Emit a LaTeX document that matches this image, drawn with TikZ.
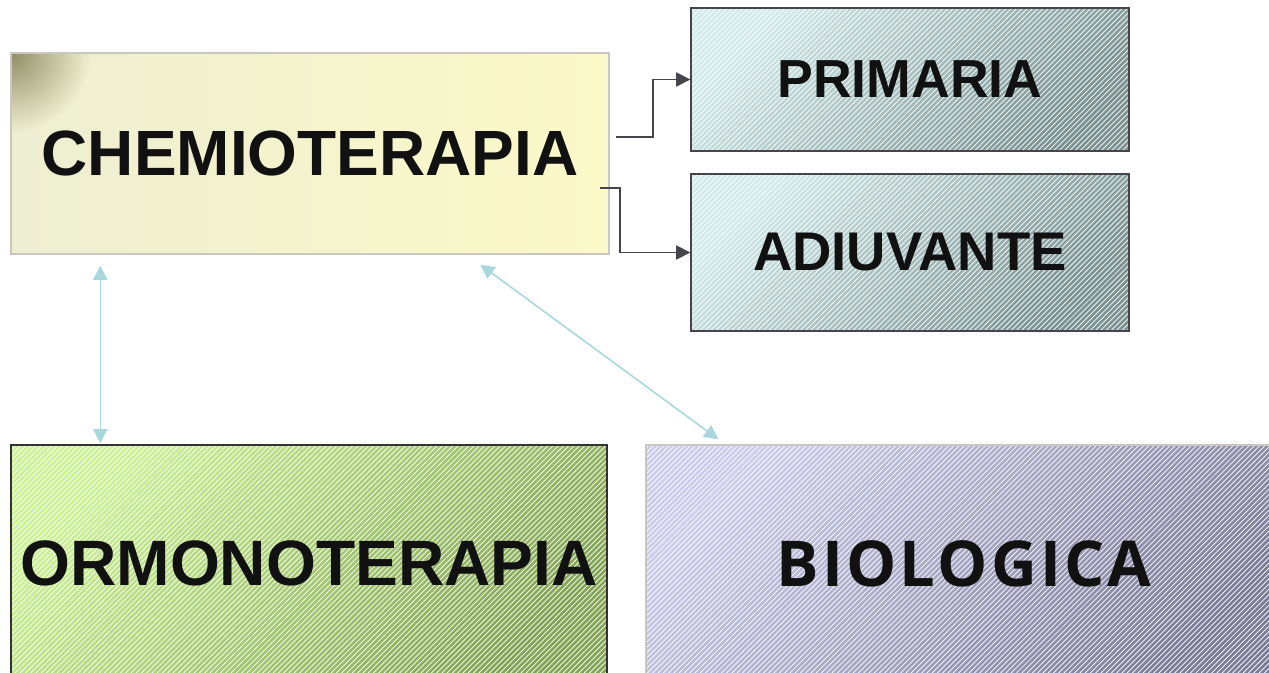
\documentclass[tikz,border=0pt]{standalone}
\usepackage{fontspec}
\setmainfont{Liberation Sans}
\newfontfamily\biofont[LetterSpace=5]{Open Sans}
\usetikzlibrary{arrows.meta,patterns,fadings}

\definecolor{textblack}{HTML}{111111}
\definecolor{linkgray}{HTML}{48444C}
\definecolor{arrowblue}{HTML}{A8D8DC}
\definecolor{chemoleft}{HTML}{EEEED2}
\definecolor{chemoright}{HTML}{FBF9C8}
\definecolor{chemoline}{HTML}{C8C8C0}
\definecolor{tealtop}{HTML}{D2EAEA}
\definecolor{tealbottom}{HTML}{7C9292}
\definecolor{greentop}{HTML}{CCF494}
\definecolor{greenbottom}{HTML}{84A456}
\definecolor{lilactop}{HTML}{CCCCEE}
\definecolor{lilacbottom}{HTML}{7C7C98}

\tikzfading[name=spotfade, inner color=transparent!35, outer color=transparent!100]

\tikzset{
  box/.style={rectangle, line width=0.8pt, inner sep=0pt, font=\bfseries, text=textblack},
  hatch/.style={postaction={pattern=north east lines, pattern color=white, fill opacity=0.2},
                postaction={draw=#1, line width=0.8pt}},
  link/.style={draw=linkgray, line width=0.9pt, -{Triangle[length=8pt,width=8pt]}},
  biarrow/.style={draw=arrowblue, line width=0.9pt, {Triangle[length=8pt,width=8pt]}-{Triangle[length=8pt,width=8pt]}},
}

\begin{document}
\begin{tikzpicture}
  \useasboundingbox (0,0) rectangle (25.38,13.44);
  \clip (0,0) rectangle (25.38,13.44);

  % main box
  \node[box, draw=chemoline, left color=chemoleft, right color=chemoright,
        minimum width=11.96cm, minimum height=4.02cm]
        (chemo) at (6.2,10.37) {};
  \begin{scope}
    \clip (chemo.south west) rectangle (chemo.north east);
    \fill[olive!55!black, path fading=spotfade] (chemo.north west) circle (1.6);
  \end{scope}
  \node[box, draw=chemoline, minimum width=11.96cm, minimum height=4.02cm,
        font=\bfseries\fontsize{36.4}{40}\selectfont] at (chemo.center) {CHEMIOTERAPIA};

  % right boxes
  \node[box, top color=tealtop, bottom color=tealbottom, shading angle=45, hatch=linkgray,
        minimum width=8.76cm, minimum height=2.86cm, font=\bfseries\fontsize{30.5}{34}\selectfont]
        (primaria) at (18.2,11.85) {PRIMARIA};
  \node[box, top color=tealtop, bottom color=tealbottom, shading angle=45, hatch=linkgray,
        minimum width=8.76cm, minimum height=3.14cm, font=\bfseries\fontsize{31}{34}\selectfont]
        (adiuvante) at (18.2,8.39) {ADIUVANTE};

  % bottom boxes
  \node[box, top color=greentop, bottom color=greenbottom, shading angle=45, hatch=black!80,
        minimum width=11.92cm, minimum height=4.74cm, font=\bfseries\fontsize{36.5}{40}\selectfont]
        (ormono) at (6.18,2.17) {ORMONOTERAPIA};
  \node[box, top color=lilactop, bottom color=lilacbottom, shading angle=45, hatch=chemoline,
        minimum width=12.72cm, minimum height=4.74cm, font=\biofont\bfseries\fontsize{36}{40}\selectfont]
        (bio) at (19.28,2.17) {BIOLOGICA};

  % connectors
  \coordinate (out1) at (12.32,10.70);
  \coordinate (out2) at (12.0,9.68);
  \draw[link] (out1) -- ++(0.74,0) |- (primaria.west);
  \draw[link] (out2) -- ++(0.4,0) |- (adiuvante.west);
  \draw[biarrow] ([xshift=1.8cm,yshift=-0.22cm]chemo.south west) -- ([xshift=1.8cm,yshift=0.02cm]ormono.north west);
  \draw[biarrow] ([xshift=9.4cm,yshift=-0.2cm]chemo.south west) -- ([xshift=1.46cm,yshift=0.1cm]bio.north west);
\end{tikzpicture}
\end{document}
